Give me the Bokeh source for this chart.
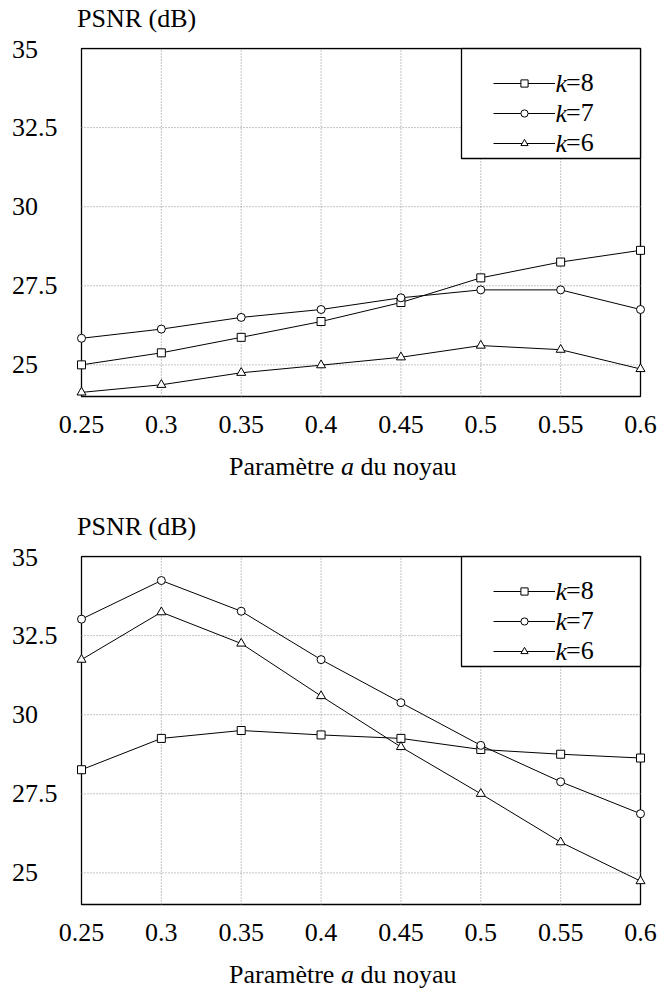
from bokeh.plotting import figure
from bokeh.models import (Range1d, FixedTicker, Label, Legend, LegendItem, BoxAnnotation, Div)
from bokeh.layouts import column
from bokeh.core.properties import value
from bokeh.embed import file_html
from bokeh.resources import INLINE

# ---------------- data ----------------
a_values = [0.25, 0.3, 0.35, 0.4, 0.45, 0.5, 0.55, 0.6]
x_tick_labels = ["0.25", "0.3", "0.35", "0.4", "0.45", "0.5", "0.55", "0.6"]
y_ticks = [25, 27.5, 30, 32.5, 35]
y_tick_labels = ["25", "27.5", "30", "32.5", "35"]
y_limits = [24.0, 35.0]
k_values = [8, 7, 6]

top_k8 = [25.0, 25.38, 25.87, 26.37, 26.97, 27.75, 28.25, 28.62]
top_k7 = [25.84, 26.13, 26.5, 26.75, 27.12, 27.37, 27.37, 26.75]
top_k6 = [24.13, 24.37, 24.75, 24.99, 25.24, 25.61, 25.48, 24.87]

bot_k8 = [28.26, 29.25, 29.5, 29.36, 29.25, 28.9, 28.75, 28.63]
bot_k7 = [33.02, 34.24, 33.27, 31.74, 30.38, 29.03, 27.88, 26.87]
bot_k6 = [31.74, 33.24, 32.25, 30.59, 28.98, 27.5, 25.97, 24.74]

y_title = "PSNR (dB)"
x_title_html = "Paramètre <i>a</i> du noyau"

# ---------------- style ----------------
FONT = "Liberation Serif"
FS = "26px"
FW, FH = 559, 348          # visible plot box
PAD_L, PAD_R, PAD_B, PAD_T = 6, 6, 6, 1   # hidden margins so edge markers are not clipped
X_MIN, X_MAX = a_values[0], a_values[-1]
Y_MIN, Y_MAX = y_limits
markers = ["square", "circle", "triangle"]
sizes = [8, 8, 9]

# legend geometry (screen px, relative to the visible box)
LEG_BOX_W, LEG_BOX_H = 179, 110
GLYPH_W = 62
GLYPH_H = 18
ITEM_H = 30
LEG_LEFT = 412
LEG_BOTTOM = 238
K_GAP = 11

# pad short labels with figure/punctuation spaces so they line up on the left
def pad_label(t, labels):
    s = t
    if "." not in s and any("." in x for x in labels):
        s = s + "\u2008"
    ndig = max(sum(c.isdigit() for c in x) for x in labels)
    s = s + "\u2007" * (ndig - sum(c.isdigit() for c in t))
    return s

y_label_text = [pad_label(t, y_tick_labels) for t in y_tick_labels]


def make_panel(series, border_top, border_bottom):
    sx = (X_MAX - X_MIN) / FW
    sy = (Y_MAX - Y_MIN) / FH
    p = figure(output_backend="svg", toolbar_location=None, tools="",
               frame_width=FW + PAD_L + PAD_R, frame_height=FH + PAD_T + PAD_B,
               x_range=Range1d(X_MIN - PAD_L * sx, X_MAX + PAD_R * sx),
               y_range=Range1d(Y_MIN - PAD_B * sy, Y_MAX + PAD_T * sy),
               min_border_left=81 - PAD_L, min_border_right=18 - PAD_R,
               min_border_top=border_top - PAD_T, min_border_bottom=border_bottom - PAD_B)
    p.outline_line_color = None
    p.background_fill_color = "white"
    p.border_fill_color = "white"
    p.xgrid.visible = False
    p.ygrid.visible = False

    xa = p.xaxis[0]
    xa.ticker = FixedTicker(ticks=a_values)
    xa.major_label_overrides = dict(zip(a_values, x_tick_labels))
    ya = p.yaxis[0]
    ya.ticker = FixedTicker(ticks=y_ticks)
    ya.major_label_overrides = dict(zip(y_ticks, y_label_text))
    for ax in (xa, ya):
        ax.axis_line_color = None
        ax.major_tick_line_color = None
        ax.minor_tick_line_color = None
        ax.major_tick_out = 0
        ax.major_tick_in = 0
        ax.minor_tick_out = 0
        ax.major_label_text_font = FONT
        ax.major_label_text_font_size = FS
        ax.major_label_text_color = "black"
    xa.major_label_standoff = 19 - PAD_B
    ya.major_label_standoff = 24 - PAD_L

    # plot frame
    p.add_layout(BoxAnnotation(left=X_MIN, right=X_MAX, bottom=Y_MIN, top=Y_MAX,
                               fill_color=None, fill_alpha=0, line_color="black",
                               line_alpha=1, line_width=1.3, level="underlay"))
    # dotted grid
    gx = [v for v in a_values if X_MIN < v < X_MAX]
    gy = [v for v in y_ticks if Y_MIN < v < Y_MAX]
    p.segment(x0=gx, y0=[Y_MIN] * len(gx), x1=gx, y1=[Y_MAX] * len(gx),
              line_color="#8a8a8a", line_dash="1 2", line_width=1)
    p.segment(x0=[X_MIN] * len(gy), y0=gy, x1=[X_MAX] * len(gy), y1=gy,
              line_color="#8a8a8a", line_dash="1 2", line_width=1)

    items = []
    for k, ys, m, s in zip(k_values, series, markers, sizes):
        lr = p.line(a_values, ys, line_color="black", line_width=1)
        sr = p.scatter(a_values, ys, marker=m, size=s, fill_color="white",
                       line_color="black", line_width=1)
        items.append(LegendItem(label=value(f"={k}"), renderers=[lr, sr]))

    # legend box
    p.add_layout(BoxAnnotation(left=FW - LEG_BOX_W + PAD_L, right=FW + PAD_L,
                               bottom=FH - LEG_BOX_H + PAD_B, top=FH + PAD_B,
                               left_units="screen", right_units="screen",
                               bottom_units="screen", top_units="screen",
                               fill_color="white", fill_alpha=1,
                               line_color="black", line_alpha=1, line_width=1.3))
    legend = Legend(items=items, location=(LEG_LEFT + PAD_L, LEG_BOTTOM + PAD_B),
                    orientation="vertical", padding=0, margin=0, spacing=0,
                    glyph_width=GLYPH_W, glyph_height=GLYPH_H, label_height=ITEM_H,
                    label_standoff=K_GAP, label_text_font=FONT,
                    label_text_font_size=FS, label_text_color="black",
                    border_line_color=None, background_fill_alpha=0)
    p.add_layout(legend)
    n = len(items)
    leg_top = LEG_BOTTOM + n * ITEM_H
    for i in range(n):
        cy = leg_top - i * ITEM_H - ITEM_H / 2
        p.add_layout(Label(x=LEG_LEFT + GLYPH_W + PAD_L, y=cy + PAD_B,
                           x_units="screen", y_units="screen", text="k",
                           text_font=FONT, text_font_size=FS, text_font_style="italic",
                           text_align="left", text_baseline="middle", text_color="black"))
    return p


def text_div(html, left, margin_top, margin_bottom, width):
    return Div(text=html, width=width, height=30,
               margin=(margin_top, 0, margin_bottom, left),
               styles={"font-family": FONT, "font-size": FS, "line-height": "30px",
                       "color": "black", "white-space": "nowrap"})


t1 = text_div(y_title, 77, 4, 0, 200)
p1 = make_panel([top_k8, top_k7, top_k6], 14, 50)
d1 = text_div(x_title_html, 229, 6, 26, 420)
t2 = text_div(y_title, 77, 4, 0, 200)
p2 = make_panel([bot_k8, bot_k7, bot_k6], 14, 50)
d2 = text_div(x_title_html, 229, 6, 2, 420)
layout = column(t1, p1, d1, t2, p2, d2, spacing=0)

open("out.html", "w").write(file_html(layout, INLINE))
